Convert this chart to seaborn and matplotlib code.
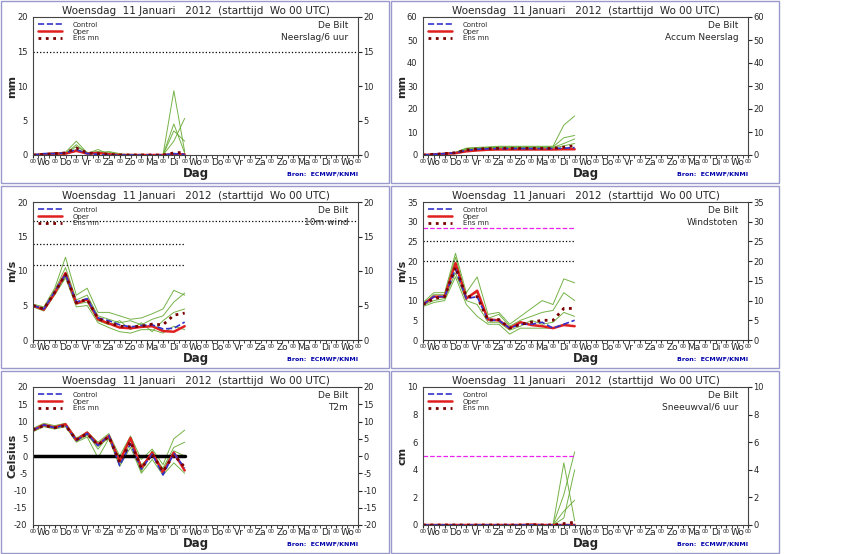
import matplotlib
matplotlib.use("Agg")
import matplotlib.pyplot as plt
import matplotlib.transforms as mtrans
from matplotlib.patches import Rectangle
import seaborn as sns
import numpy as np
import pandas as pd

sns.set_style("white")
plt.rcParams['font.family'] = ['DejaVu Sans']
plt.rcParams['axes.unicode_minus'] = False

# time axis: 12-hourly steps, days since Wo 00 UTC
t = np.arange(0, 7.01, 0.5)
days = ['Wo', 'Do', 'Vr', 'Za', 'Zo', 'Ma', 'Di', 'Wo', 'Do', 'Vr', 'Za', 'Zo', 'Ma', 'Di', 'Wo']

# --- Neerslag/6 uur (mm)
rr_ctrl = [0, 0.2, 0.2, 0.3, 0.8, 0.2, 0.1, 0, 0, 0, 0, 0, 0, 0.2, 0.1]
rr_oper = [0, 0.1, 0.2, 0.2, 0.6, 0.2, 0.3, 0.1, 0, 0, 0, 0, 0, 0.1, 0.1]
rr_mean = [0, 0.1, 0.2, 0.3, 1.0, 0.3, 0.2, 0.1, 0, 0, 0, 0, 0, 0.3, 0.4]
rr_members = [
    [0, 0.2, 0.3, 0.4, 2.0, 0.3, 0.5, 0.4, 0.1, 0, 0, 0, 0, 9.3, 0.5],
    [0, 0.1, 0.2, 0.2, 1.5, 0.2, 0.8, 0.1, 0, 0.1, 0, 0, 0, 4.5, 0.3],
    [0, 0.2, 0.2, 0.3, 1.2, 0.4, 0.2, 0.5, 0.2, 0, 0.1, 0, 0, 2.0, 5.3],
    [0, 0.1, 0.3, 0.2, 0.8, 0.2, 0.3, 0.2, 0, 0, 0, 0, 0, 3.5, 2.0],
]

# --- Accum Neerslag (mm)
acc_ctrl = [0, 0.3, 0.6, 1.0, 2.0, 2.5, 2.7, 2.8, 2.8, 2.8, 2.8, 2.8, 2.8, 3.0, 3.2]
acc_oper = [0, 0.2, 0.5, 0.8, 1.6, 2.0, 2.3, 2.4, 2.4, 2.4, 2.4, 2.4, 2.4, 2.5, 2.5]
acc_mean = [0, 0.3, 0.6, 1.0, 2.2, 2.6, 2.8, 2.9, 2.9, 2.9, 2.9, 2.9, 2.9, 3.4, 4.0]
acc_members = [
    [0, 0.5, 0.8, 1.2, 3.0, 3.3, 3.5, 3.8, 3.8, 3.8, 3.8, 3.8, 3.8, 13, 17],
    [0, 0.4, 0.7, 1.1, 2.8, 3.1, 3.3, 3.5, 3.5, 3.5, 3.5, 3.5, 3.5, 7.5, 8.5],
    [0, 0.3, 0.6, 1.0, 2.5, 2.9, 3.1, 3.3, 3.3, 3.3, 3.3, 3.3, 3.3, 5.0, 7.0],
    [0, 0.2, 0.5, 0.9, 2.2, 2.6, 2.9, 3.0, 3.0, 3.0, 3.0, 3.0, 3.0, 4.0, 5.0],
]

# --- 10m wind (m/s)
w_ctrl = [5, 4.5, 7, 9.5, 5.5, 6, 3.2, 2.8, 2.2, 1.9, 2.1, 2.2, 1.6, 1.7, 2.6]
w_oper = [5, 4.4, 6.8, 9.7, 5.3, 5.9, 3.0, 2.4, 1.8, 1.7, 1.9, 2.0, 1.3, 1.2, 2.0]
w_mean = [5, 4.5, 6.9, 9.5, 5.4, 5.9, 3.1, 2.5, 2.0, 1.9, 2.0, 2.3, 2.2, 3.6, 3.9]
w_members = [
    [5.2, 4.8, 7.5, 12, 6.5, 7.5, 4.0, 4.0, 3.5, 3.0, 3.2, 3.8, 4.5, 7.2, 6.5],
    [4.8, 4.2, 6.5, 9.0, 4.8, 5.0, 2.5, 1.8, 1.2, 1.0, 1.5, 1.5, 1.0, 2.0, 1.5],
    [5.0, 4.6, 7.2, 10.5, 5.8, 6.5, 3.5, 3.0, 2.5, 2.8, 2.2, 3.0, 3.5, 5.5, 6.8],
    [5.1, 4.4, 6.8, 9.2, 5.2, 5.5, 2.8, 2.2, 2.8, 1.5, 2.5, 1.2, 2.8, 4.0, 4.5],
]

# --- Windstoten (m/s)
g_ctrl = [9, 11, 11, 18, 10.5, 11, 5, 5, 3, 4, 4, 4.5, 3, 4, 5]
g_oper = [9, 11, 11, 19.5, 10.5, 12.5, 5.2, 5, 3, 4.5, 3.8, 3.5, 3, 3.8, 3.5]
g_mean = [9, 10.5, 11, 18.5, 11, 11, 5, 5.2, 3, 4, 4.5, 5, 5, 8, 8]
g_members = [
    [9.5, 12, 12, 22, 12, 16, 6.5, 7, 4, 6, 8, 10, 9, 15.5, 14.5],
    [8.5, 9.5, 10, 16, 9, 6, 4, 4, 1.5, 3, 3, 3, 3, 4, 3.5],
    [9, 11.5, 11.5, 21, 11, 12, 5.5, 6.5, 3.5, 5, 6, 7, 7.5, 12, 10],
    [8.8, 10, 10.5, 17, 10, 9, 4.5, 4.5, 2.5, 3.5, 5, 4, 4.5, 7, 6],
]

# --- T2m (Celsius)
t_ctrl = [7.5, 9, 8.2, 9, 4.5, 6.5, 3, 6, -2.8, 3.5, -3.8, 0.5, -5.5, 0.8, -3.5]
t_oper = [7.5, 9, 8.3, 9.2, 4.6, 6.8, 3.3, 5.8, -1.5, 5.2, -3.5, 1.0, -4.8, 1.0, -4.2]
t_mean = [7.6, 8.8, 8.2, 8.8, 4.7, 6.4, 3.2, 5.6, -1.8, 4.2, -3.6, 0.5, -4.5, 0.3, -3.2]
t_members = [
    [8, 9.5, 8.8, 9.5, 5.2, 7, 4, 6.5, 0, 5.8, -1, 2, -2.5, 5, 7.5],
    [7, 8.5, 7.8, 8.5, 4, 5.5, -0.5, 5, -3, 2.5, -5, -1, -5.5, -2, -5],
    [7.5, 9, 8.3, 9, 4.5, 6.5, 2, 6, -1, 4.5, -2.5, 0, -3.5, 2.5, 4],
    [7.3, 8.8, 8.0, 8.8, 4.3, 6.0, 2.8, 5.2, -2.5, 3.8, -4.5, 1.5, -4, 1.5, 0],
]

# --- Sneeuwval/6 uur (cm)
s_ctrl = [0] * 15
s_oper = [0, 0, 0, 0, 0, 0, 0, 0, 0, 0, 0.03, 0, 0, 0, 0]
s_mean = [0, 0, 0, 0, 0, 0, 0, 0, 0, 0, 0.03, 0, 0, 0.1, 0.2]
s_members = [
    [0, 0, 0, 0, 0, 0, 0, 0, 0, 0, 0.05, 0, 0, 2.2, 5.3],
    [0, 0, 0, 0, 0, 0, 0, 0, 0, 0, 0, 0, 0, 4.5, 0.3],
    [0, 0, 0, 0, 0, 0, 0, 0, 0, 0, 0, 0, 0, 1.0, 1.8],
    [0, 0, 0, 0, 0, 0, 0, 0, 0, 0, 0, 0, 0, 0.5, 4.0],
]

C_CTRL = '#3333cc'
C_OPER = '#e02020'
C_MEAN = '#7a0000'
C_MEMB = '#66aa33'

panels = [
    # col, row, ylabel, name, ylim, yticks, ctrl, oper, mean, members, hlines
    (0, 0, 'mm', 'Neerslag/6 uur', (0, 20), range(0, 21, 5), rr_ctrl, rr_oper, rr_mean, rr_members,
     [(15, 'k', ':', 15)]),
    (1, 0, 'mm', 'Accum Neerslag', (0, 60), range(0, 61, 10), acc_ctrl, acc_oper, acc_mean, acc_members, []),
    (0, 1, 'm/s', '10m wind', (0, 20), range(0, 21, 5), w_ctrl, w_oper, w_mean, w_members,
     [(17.2, 'k', ':', 15), (13.9, 'k', ':', 7), (10.8, 'k', ':', 7)]),
    (1, 1, 'm/s', 'Windstoten', (0, 35), range(0, 36, 5), g_ctrl, g_oper, g_mean, g_members,
     [(28.5, '#ee22ee', '--', 7), (25, 'k', ':', 7), (20, 'k', ':', 7)]),
    (0, 2, 'Celsius', 'T2m', (-20, 20), range(-20, 21, 5), t_ctrl, t_oper, t_mean, t_members, []),
    (1, 2, 'cm', 'Sneeuwval/6 uur', (0, 10), range(0, 11, 2), s_ctrl, s_oper, s_mean, s_members,
     [(5, '#ee22ee', '--', 7)]),
]

W, H = 861, 554
fig = plt.figure(figsize=(W / 100, H / 100), dpi=100)

row_top = [0, 185, 370]
col_left = [0, 390]

for col, row, ylab, name, ylim, yticks, ctrl, oper, mean, members, hlines in panels:
    x0 = col_left[col] + 33
    y0 = row_top[row] + 17
    ax = fig.add_axes([x0 / W, 1 - (y0 + 138) / H, 325 / W, 138 / H])
    # frame around the panel
    fig.patches.append(Rectangle(((col_left[col] + 1) / W, 1 - (row_top[row] + 183) / H),
                                 388 / W, 182 / H, transform=fig.transFigure,
                                 fill=False, ec='#9999cc', lw=1))

    for m in members:
        sns.lineplot(x=t, y=m, ax=ax, color=C_MEMB, lw=0.7, alpha=0.9)
    for y, c, ls, xend in hlines:
        ax.plot([0, xend], [y, y], color=c, ls=ls, lw=0.9)
    if name == 'T2m':
        ax.plot([0, 7], [0, 0], color='k', lw=2.5)
    sns.lineplot(x=t, y=oper, ax=ax, color=C_OPER, lw=1.8, label='Oper')
    sns.lineplot(x=t, y=ctrl, ax=ax, color=C_CTRL, lw=1.2, ls='--', label='Control')
    sns.lineplot(x=t, y=mean, ax=ax, color=C_MEAN, lw=2, ls=':', label='Ens mn')

    ax.set_xlim(0, 15)
    ax.set_ylim(*ylim)
    ax.set_yticks(list(yticks))
    ax.tick_params(axis='y', labelsize=6, right=True, labelright=True, length=3, pad=1, direction='out')
    ax.set_xticks(range(16))
    ax.set_xticklabels(['00'] * 16, fontsize=4)
    ax.set_xticks(np.arange(0, 15.01, 0.25), minor=True)
    ax.tick_params(axis='x', which='both', length=2.5, pad=0.5, bottom=True)
    trans = mtrans.blended_transform_factory(ax.transData, ax.transAxes)
    for i, d in enumerate(days):
        ax.text(i + 0.5, -0.025, d, transform=trans, ha='center', va='top', fontsize=6.5)
    ax.set_xlabel('')
    ax.text(0.5, -0.085, 'Dag', transform=ax.transAxes, ha='center', va='top',
            fontsize=8.5, fontweight='bold')
    ax.set_ylabel(ylab, fontsize=8, fontweight='bold')
    ax.yaxis.set_label_coords(-0.048, 0.5)
    for s in ax.spines.values():
        s.set_color('#444444')
        s.set_linewidth(0.8)

    ax.set_title('Woensdag  11 Januari   2012  (starttijd  Wo 00 UTC)', fontsize=7.5, pad=2)
    ax.text(0.97, 0.97, 'De Bilt\n' + name, transform=ax.transAxes, ha='right', va='top',
            fontsize=6.5, linespacing=1.4)
    ax.text(1.0, -0.12, 'Bron:  ECMWF/KNMI', transform=ax.transAxes, ha='right', va='top',
            fontsize=4.5, color='#0000aa', fontweight='bold')

    h, l = ax.get_legend_handles_labels()
    order = [1, 0, 2]
    ax.legend([h[i] for i in order], [l[i] for i in order], loc='upper left',
              fontsize=5, frameon=False, handlelength=3.5, labelspacing=0.1,
              borderaxespad=0.3, handletextpad=1.5)

fig.savefig('out.png', dpi=100)
